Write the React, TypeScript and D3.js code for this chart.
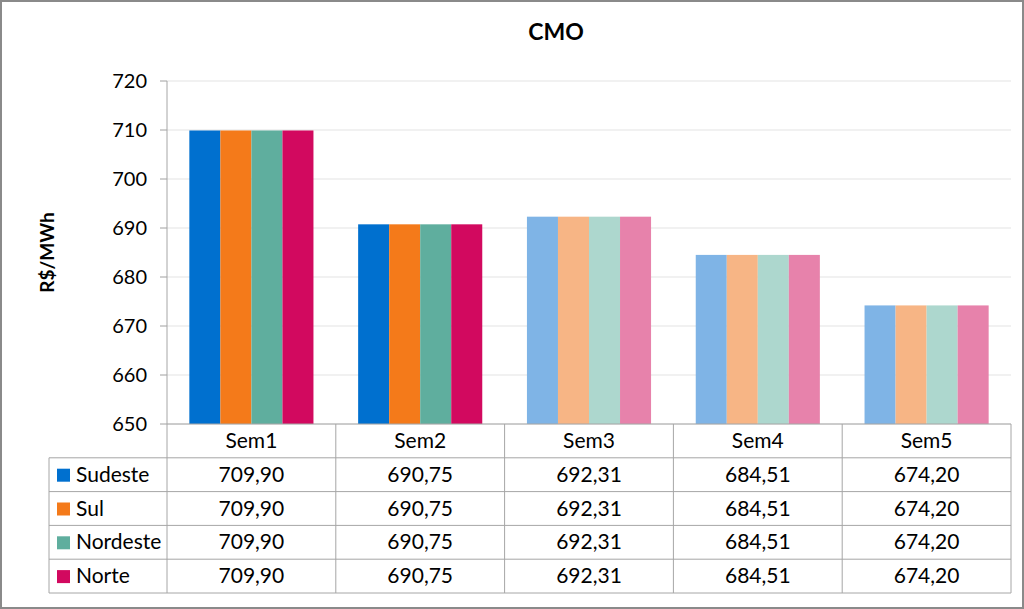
import React from "react";
import * as d3 from "d3";

const categories = ["Sem1", "Sem2", "Sem3", "Sem4", "Sem5"];
const seriesNames = ["Sudeste", "Sul", "Nordeste", "Norte"];
const sudeste = [709.9, 690.75, 692.31, 684.51, 674.2];
const sul = [709.9, 690.75, 692.31, 684.51, 674.2];
const nordeste = [709.9, 690.75, 692.31, 684.51, 674.2];
const norte = [709.9, 690.75, 692.31, 684.51, 674.2];
const yTicks = [650, 660, 670, 680, 690, 700, 710, 720];
const solidColors = ["#0070CF", "#F47A1A", "#5FAE9E", "#D2095F"];
const lightColors = ["#7FB4E6", "#F7B585", "#ADD7CE", "#E782AB"];
const lightFrom = 2; // Sem3 onward shown lighter

const W = 1024, H = 609;
const L = 167, R = 1011, T = 81, B = 424;
const tableLeft = 49;
const rowH = 33.8;
const font = "Lato, 'Open Sans', sans-serif";
const tfs = 21;

export default function App() {
  const series = [sudeste, sul, nordeste, norte];
  const x = d3.scaleBand<string>().domain(categories).range([L, R]).paddingInner(0).paddingOuter(0);
  const x1 = d3.scaleBand<string>().domain(seriesNames).range([0, x.bandwidth()]).paddingOuter(0.72).paddingInner(0);
  const y = d3.scaleLinear().domain([650, 720]).range([B, T]);
  const fmt = (v: number) => v.toFixed(2).replace(".", ",");
  const tableBottom = B + rowH * 5;

  return (
    <svg width={W} height={H} style={{ position: "absolute", left: 0, top: 0 }} fontFamily={font}>
      <rect x={0} y={0} width={W} height={H} fill="#fff" />
      <rect x={1} y={1} width={W - 2} height={H - 2} fill="none" stroke="#8a8a8a" strokeWidth={2} />
      <text x={556} y={40} textAnchor="middle" fontWeight="bold" fontSize={23} fill="#000">CMO</text>
      <text transform={`translate(54,${(T + B) / 2}) rotate(-90)`} textAnchor="middle" fontWeight="bold" fontSize={19} fill="#000">R$/MWh</text>
      {yTicks.map((t) => (
        <g key={t}>
          <line x1={L} x2={R} y1={y(t)} y2={y(t)} stroke="#e3e3e3" strokeWidth={1} />
          <line x1={L - 7} x2={L} y1={y(t)} y2={y(t)} stroke="#a0a0a0" strokeWidth={1} />
          <text x={147} y={y(t) + 7} textAnchor="end" fontSize={20} fill="#000">{t}</text>
        </g>
      ))}
      {categories.map((c, ci) =>
        seriesNames.map((s, si) => {
          const v = series[si][ci];
          return (
            <rect key={c + s} x={(x(c) as number) + (x1(s) as number)} width={x1.bandwidth()} y={y(v)} height={B - y(v)}
              fill={ci >= lightFrom ? lightColors[si] : solidColors[si]} />
          );
        })
      )}
      {/* table */}
      <g stroke="#a6a6a6" strokeWidth={1} fill="none">
        <line x1={L} x2={L} y1={T} y2={tableBottom} />
        <line x1={L} x2={R} y1={B} y2={B} />
        {categories.map((c, ci) => (
          <line key={c} x1={(x(c) as number) + x.bandwidth()} x2={(x(c) as number) + x.bandwidth()} y1={B} y2={tableBottom} />
        ))}
        {seriesNames.map((s, si) => (
          <line key={s} x1={tableLeft} x2={R} y1={B + rowH * (si + 1)} y2={B + rowH * (si + 1)} />
        ))}
        <line x1={tableLeft} x2={R} y1={tableBottom} y2={tableBottom} />
        <line x1={tableLeft} x2={tableLeft} y1={B + rowH} y2={tableBottom} />
      </g>
      {categories.map((c) => (
        <text key={c} x={(x(c) as number) + x.bandwidth() / 2} y={B + rowH / 2 + 7} textAnchor="middle" fontSize={tfs} fill="#000">{c}</text>
      ))}
      {seriesNames.map((s, si) => {
        const cy = B + rowH * (si + 1) + rowH / 2;
        return (
          <g key={s}>
            <rect x={57} y={cy - 6} width={13} height={13} fill={solidColors[si]} />
            <text x={76} y={cy + 7} fontSize={tfs} fill="#000">{s}</text>
            {categories.map((c, ci) => (
              <text key={c} x={(x(c) as number) + x.bandwidth() / 2} y={cy + 7} textAnchor="middle" fontSize={tfs} fill="#000">{fmt(series[si][ci])}</text>
            ))}
          </g>
        );
      })}
    </svg>
  );
}
